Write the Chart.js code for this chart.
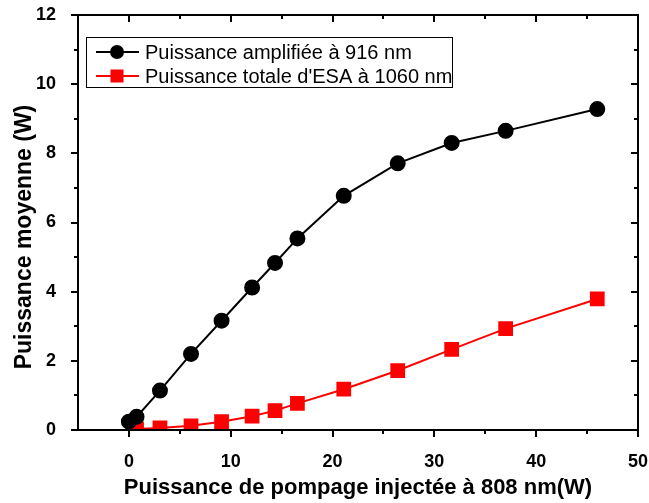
<!DOCTYPE html>
<html>
<head>
<meta charset="utf-8">
<script src="https://cdn.jsdelivr.net/npm/chart.js@4.4.1/dist/chart.umd.min.js"></script>
<style>
  html, body { margin: 0; padding: 0; background: #fff; }
  #wrap { width: 649px; height: 503px; position: relative; }
</style>
</head>
<body>
<div id="wrap"><canvas id="chart"></canvas></div>
<script>
// pump power (W) and output power (W)
const pumpAmp = [0, 0.75, 3.05, 6.1, 9.1, 12.1, 14.35, 16.55, 21.1, 26.4, 31.7, 37.0, 46.0];
const powerAmp = [0.24, 0.38, 1.14, 2.2, 3.16, 4.12, 4.83, 5.54, 6.77, 7.71, 8.3, 8.65, 9.28];
const pumpEsa = [0.75, 3.05, 6.1, 9.1, 12.1, 14.35, 16.55, 21.1, 26.4, 31.7, 37.0, 46.0];
const powerEsa = [0.03, 0.06, 0.12, 0.24, 0.4, 0.56, 0.77, 1.18, 1.72, 2.33, 2.93, 3.79];

const labels = ['Puissance amplifiée à 916 nm', "Puissance totale d'ESA à 1060 nm"];
const xTitle = 'Puissance de pompage injectée à 808 nm(W)';
const yTitle = 'Puissance moyenne (W)';
const xTicks = [0, 10, 20, 30, 40, 50];
const yTicks = [0, 2, 4, 6, 8, 10, 12];

const FONT = '"Liberation Sans", Arial, sans-serif';
const toPoints = (xs, ys) => xs.map((x, i) => ({ x: x, y: ys[i] }));

// frame, ticks (major/minor, mirrored inside on top/right), axis titles and legend box
const framePlugin = {
  id: 'frame',
  afterDraw(chart) {
    const ctx = chart.ctx;
    const a = chart.chartArea;
    const xs = chart.scales.x, ys = chart.scales.y;
    ctx.save();
    ctx.strokeStyle = '#000';
    ctx.lineWidth = 2;
    ctx.strokeRect(a.left, a.top, a.right - a.left, a.bottom - a.top);

    ctx.beginPath();
    for (let v = 0; v <= 50; v += 5) {
      const px = Math.round(xs.getPixelForValue(v));
      const len = v % 10 === 0 ? 7 : 4;
      ctx.moveTo(px, a.bottom); ctx.lineTo(px, a.bottom + len);
      ctx.moveTo(px, a.top); ctx.lineTo(px, a.top + len);
    }
    for (let v = 0; v <= 12; v += 1) {
      const py = Math.round(ys.getPixelForValue(v));
      const len = v % 2 === 0 ? 7 : 4;
      ctx.moveTo(a.left, py); ctx.lineTo(a.left - len, py);
      ctx.moveTo(a.right, py); ctx.lineTo(a.right - len, py);
    }
    ctx.stroke();

    // axis titles
    ctx.fillStyle = '#000';
    ctx.textAlign = 'center';
    ctx.textBaseline = 'alphabetic';
    ctx.font = 'bold 22px ' + FONT;
    ctx.fillText(xTitle, (a.left + a.right) / 2, 494);
    ctx.save();
    ctx.translate(31, 237);
    ctx.rotate(-Math.PI / 2);
    ctx.font = 'bold 23px ' + FONT;
    ctx.fillText(yTitle, 0, 0);
    ctx.restore();

    // legend
    const bx = 86, by = 37, bw = 366, bh = 50;
    ctx.lineWidth = 1;
    ctx.strokeStyle = '#000';
    ctx.strokeRect(bx + 0.5, by + 0.5, bw, bh);
    ctx.font = '20px ' + FONT;
    ctx.textAlign = 'left';
    ctx.textBaseline = 'middle';
    chart.data.datasets.forEach((d, i) => {
      const cy = by + 15 + i * 24;
      ctx.strokeStyle = d.borderColor;
      ctx.lineWidth = 2;
      ctx.beginPath();
      ctx.moveTo(bx + 10, cy); ctx.lineTo(bx + 53, cy);
      ctx.stroke();
      ctx.fillStyle = d.backgroundColor;
      if (d.pointStyle === 'rect') {
        ctx.fillRect(bx + 31 - 6.5, cy - 6.5, 13, 13);
      } else {
        ctx.beginPath();
        ctx.arc(bx + 31, cy, 7, 0, Math.PI * 2);
        ctx.fill();
      }
      ctx.fillStyle = '#000';
      ctx.fillText(d.label, bx + 59, cy + 1);
    });
    ctx.restore();
  }
};

const ctx = document.getElementById('chart').getContext('2d');
new Chart(ctx, {
  type: 'scatter',
  data: {
    datasets: [
      {
        label: labels[0],
        data: toPoints(pumpAmp, powerAmp),
        showLine: true,
        borderColor: '#000',
        backgroundColor: '#000',
        borderWidth: 2,
        pointStyle: 'circle',
        pointRadius: 7,
        pointHoverRadius: 7
      },
      {
        label: labels[1],
        data: toPoints(pumpEsa, powerEsa),
        showLine: true,
        borderColor: '#ff0000',
        backgroundColor: '#ff0000',
        borderWidth: 2,
        pointStyle: 'rect',
        pointRadius: 9,
        pointHoverRadius: 9
      }
    ]
  },
  options: {
    responsive: true,
    maintainAspectRatio: false,
    animation: false,
    layout: { padding: { top: 15, right: 11, left: 0, bottom: 0 } },
    plugins: {
      legend: { display: false },
      tooltip: { enabled: false }
    },
    scales: {
      x: {
        type: 'linear',
        min: -5,
        max: 50,
        afterBuildTicks: (s) => { s.ticks = xTicks.map(v => ({ value: v })); },
        afterFit: (s) => { s.height = 73; s.paddingLeft = 0; s.paddingRight = 0; },
        grid: { display: false },
        border: { display: false },
        ticks: {
          padding: 13,
          color: '#000',
          font: { family: FONT, size: 18, weight: 'bold' }
        }
      },
      y: {
        type: 'linear',
        min: 0,
        max: 12,
        afterBuildTicks: (s) => { s.ticks = yTicks.map(v => ({ value: v })); },
        afterFit: (s) => { s.width = 78; s.paddingTop = 0; s.paddingBottom = 0; },
        grid: { display: false },
        border: { display: false },
        ticks: {
          padding: 14,
          color: '#000',
          font: { family: FONT, size: 18, weight: 'bold' }
        }
      }
    }
  },
  plugins: [framePlugin]
});
</script>
</body>
</html>
